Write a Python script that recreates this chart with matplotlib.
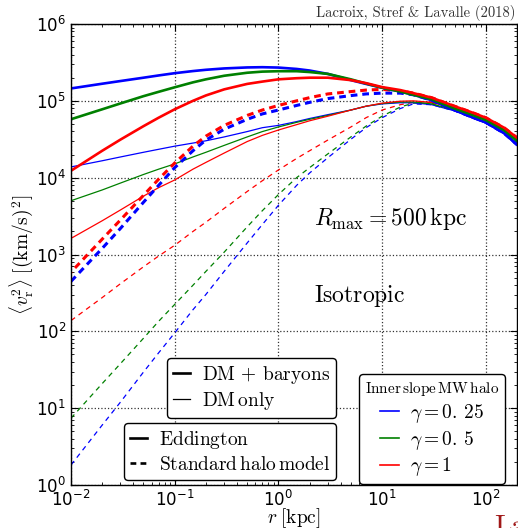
import matplotlib
matplotlib.use("Agg")
import matplotlib.pyplot as plt
from matplotlib.lines import Line2D

# ---------------- data ----------------
r_kpc = [0.01, 0.02, 0.03, 0.05, 0.07, 0.1, 0.15, 0.2, 0.3, 0.5, 0.7, 1, 1.5, 2,
         3, 5, 7, 10, 15, 20, 30, 50, 70, 100, 150, 200]

# Eddington, DM + baryons (thick solid)
edd_bar_g025 = [1.45e5, 1.67e5, 1.81e5, 2.00e5, 2.14e5, 2.29e5, 2.44e5, 2.535e5, 2.64e5, 2.72e5,
                2.74e5, 2.71e5, 2.60e5, 2.48e5, 2.24e5, 1.86e5, 1.66e5, 1.48e5, 1.32e5, 1.20e5,
                1.02e5, 7.59e4, 6.31e4, 5.25e4, 3.80e4, 2.69e4]
edd_bar_g05 = [5.76e4, 7.76e4, 9.25e4, 1.15e5, 1.31e5, 1.50e5, 1.74e5, 1.905e5, 2.12e5, 2.32e5,
               2.40e5, 2.43e5, 2.43e5, 2.37e5, 2.24e5, 1.905e5, 1.68e5, 1.48e5, 1.32e5, 1.20e5,
               1.05e5, 7.94e4, 6.76e4, 5.62e4, 4.17e4, 3.02e4]
edd_bar_g1 = [1.23e4, 2.24e4, 3.13e4, 4.68e4, 6.03e4, 7.76e4, 1.00e5, 1.175e5, 1.41e5, 1.66e5,
              1.78e5, 1.905e5, 1.97e5, 2.00e5, 2.00e5, 1.86e5, 1.70e5, 1.51e5, 1.38e5, 1.26e5,
              1.10e5, 8.51e4, 7.24e4, 6.03e4, 4.47e4, 3.31e4]

# Eddington, DM only (thin solid)
edd_dm_g025 = [1.38e4, 1.66e4, 1.86e4, 2.14e4, 2.34e4, 2.57e4, 2.82e4, 3.02e4, 3.39e4, 3.98e4,
               4.47e4, 4.79e4, 5.37e4, 5.89e4, 6.61e4, 7.59e4, 8.51e4, 9.12e4, 9.44e4, 9.44e4,
               8.91e4, 7.41e4, 6.17e4, 5.13e4, 3.72e4, 2.63e4]
edd_dm_g05 = [5.01e3, 6.92e3, 8.51e3, 1.10e4, 1.29e4, 1.51e4, 1.86e4, 2.14e4, 2.63e4, 3.39e4,
              3.98e4, 4.57e4, 5.25e4, 5.75e4, 6.46e4, 7.59e4, 8.51e4, 9.23e4, 9.66e4, 9.66e4,
              9.12e4, 7.59e4, 6.31e4, 5.25e4, 3.89e4, 2.82e4]
edd_dm_g1 = [1.62e3, 2.75e3, 3.80e3, 5.75e3, 7.41e3, 9.33e3, 1.29e4, 1.58e4, 2.09e4, 2.95e4,
             3.55e4, 4.17e4, 4.90e4, 5.50e4, 6.31e4, 7.59e4, 8.51e4, 9.33e4, 9.89e4, 1.00e5,
             9.55e4, 8.13e4, 6.92e4, 5.75e4, 4.27e4, 3.16e4]

# Standard halo model, DM + baryons (thick dashed)
shm_bar_g025 = [447, 1202, 2188, 4786, 7943, 1.35e4, 2.24e4, 3.09e4, 4.27e4, 5.75e4,
                6.76e4, 7.59e4, 8.71e4, 9.55e4, 1.07e5, 1.17e5, 1.23e5, 1.26e5, 1.26e5, 1.20e5,
                1.02e5, 7.59e4, 6.31e4, 5.25e4, 3.80e4, 2.69e4]
shm_bar_g1 = [589, 1585, 2818, 5888, 9550, 1.55e4, 2.57e4, 3.47e4, 4.79e4, 6.46e4,
              7.59e4, 8.71e4, 1.00e5, 1.10e5, 1.23e5, 1.32e5, 1.38e5, 1.41e5, 1.35e5, 1.26e5,
              1.10e5, 8.51e4, 7.24e4, 6.03e4, 4.47e4, 3.31e4]

# Standard halo model, DM only (thin dashed)
shm_dm_g025 = [1.82, 6.03, 12.0, 29.5, 52.5, 95.5, 191, 302, 603, 1413,
               2455, 4365, 7943, 1.15e4, 1.82e4, 3.16e4, 4.47e4, 6.03e4, 7.94e4, 9.12e4,
               8.91e4, 7.41e4, 6.17e4, 5.13e4, 3.72e4, 2.63e4]
shm_dm_g05 = [7.4, 20.9, 38.0, 81.3, 135, 224, 398, 603, 1072, 2291,
              3715, 6026, 1.0e4, 1.35e4, 2.04e4, 3.39e4, 4.68e4, 6.31e4, 8.32e4, 9.33e4,
              9.33e4, 7.94e4, 6.61e4, 5.50e4, 4.07e4, 2.95e4]
shm_dm_g1 = [138, 275, 417, 692, 955, 1318, 1995, 2630, 3981, 6607,
             9120, 1.26e4, 1.78e4, 2.24e4, 3.09e4, 4.57e4, 6.03e4, 7.59e4, 8.91e4, 9.55e4,
             9.55e4, 8.32e4, 7.08e4, 5.89e4, 4.37e4, 3.24e4]

gamma_labels = [r'$\gamma=0.\,25$', r'$\gamma=0.\,5$', r'$\gamma=1$']
gamma_colors = ['blue', 'green', 'red']

# ---------------- figure ----------------
plt.rcParams['mathtext.fontset'] = 'dejavusans'
fig = plt.figure(figsize=(5.18, 5.28), dpi=100)
ax = fig.add_axes([71/518, 43/528, 446/518, 461/528])
ax.set_xscale('log')
ax.set_yscale('log')

thin = 0.9
thick = 1.9

# thin dashed
for y, c in zip([shm_dm_g025, shm_dm_g05, shm_dm_g1], gamma_colors):
    ax.plot(r_kpc, y, color=c, lw=thin, ls=(0, (4, 3.5)))
# thin solid
for y, c in zip([edd_dm_g025, edd_dm_g05, edd_dm_g1], gamma_colors):
    ax.plot(r_kpc, y, color=c, lw=thin)
# thick dashed
ax.plot(r_kpc, shm_bar_g025, color='blue', lw=thick + 0.3, ls=(0, (2.2, 1.6)))
ax.plot(r_kpc, shm_bar_g1, color='red', lw=thick + 0.3, ls=(1.9, (2.2, 1.6)))
# thick solid
for y, c in zip([edd_bar_g025, edd_bar_g05, edd_bar_g1], gamma_colors):
    ax.plot(r_kpc, y, color=c, lw=thick)

ax.set_xlim(1e-2, 200)
ax.set_ylim(1, 1e6)

ax.grid(True, which='major', ls=':', color='black', lw=0.9, alpha=0.8)
ax.tick_params(which='both', direction='in', top=True, right=True, labelsize=12)
ax.tick_params(which='major', length=5, width=0.8)
ax.tick_params(which='minor', length=2.5, width=0.6)
for s in ax.spines.values():
    s.set_linewidth(1.0)

ax.set_xlabel(r'$r\;[\mathrm{kpc}]$', fontsize=14, math_fontfamily='cm', labelpad=-2.5)
ax.set_ylabel(r'$\langle v_{\rm r}^2\rangle\;[(\mathrm{km/s})^2]$', fontsize=14,
              math_fontfamily='cm', labelpad=1)

ax.text(0.545, 0.578, r'$R_{\rm max} = 500\,\mathrm{kpc}$', transform=ax.transAxes,
        fontsize=17, math_fontfamily='cm', va='center', ha='left')
ax.text(0.545, 0.41, r'$\mathrm{Isotropic}$', transform=ax.transAxes,
        fontsize=17, math_fontfamily='cm', va='center', ha='left')

fig.text(515/518, 1 - 13/528, 'Lacroix, Stref & Lavalle (2018)',
         fontsize=10.5, family='cmr10', ha='right', va='center', color='#333333')
fig.text(494/518, 1 - 515/528, 'La', fontsize=20, family='cmr10',
         color='#a01818', ha='left', va='top')

def style_leg(leg):
    leg.get_frame().set_edgecolor('black')
    leg.get_frame().set_linewidth(1.0)
    for t in leg.get_texts():
        t.set_math_fontfamily('cm')
    leg.get_title().set_math_fontfamily('cm')

common = dict(frameon=True, fancybox=True, framealpha=1, borderaxespad=0,
              bbox_transform=fig.transFigure, loc='upper left')

h1 = [Line2D([], [], color='black', lw=thick), Line2D([], [], color='black', lw=thin)]
leg1 = ax.legend(h1, [r'$\mathrm{DM}\,+\,\mathrm{baryons}$', r'$\mathrm{DM\,only}$'],
                 bbox_to_anchor=(167/518, 1 - 358/528), fontsize=14,
                 handlelength=0.9, handletextpad=0.6, labelspacing=0.2, borderpad=0.3,
                 **common)
style_leg(leg1)
ax.add_artist(leg1)

h2 = [Line2D([], [], color='black', lw=thick),
      Line2D([], [], color='black', lw=thick, ls=(0, (2.2, 1.6)))]
leg2 = ax.legend(h2, [r'$\mathrm{Eddington}$', r'$\mathrm{Standard\,halo\,model}$'],
                 bbox_to_anchor=(124/518, 1 - 423/528), fontsize=14,
                 handlelength=0.9, handletextpad=0.6, labelspacing=0.2, borderpad=0.3,
                 **common)
style_leg(leg2)
ax.add_artist(leg2)

h3 = [Line2D([], [], color=c, lw=1.2) for c in gamma_colors]
leg3 = ax.legend(h3, gamma_labels, title=r'$\mathrm{Inner\,slope\,MW\,halo}$',
                 title_fontsize=11, bbox_to_anchor=(359/518, 1 - 374/528), fontsize=14,
                 handlelength=0.95, handletextpad=0.55, labelspacing=0.2, borderpad=0.3,
                 **common)
style_leg(leg3)

fig.savefig('out.png', dpi=100)
